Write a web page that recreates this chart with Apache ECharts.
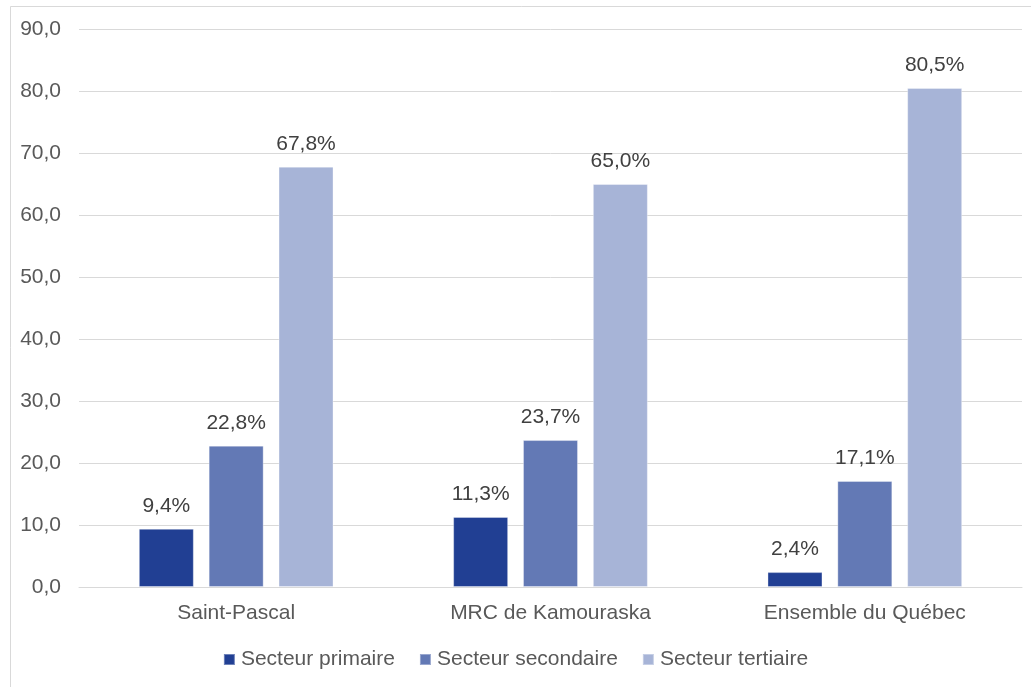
<!DOCTYPE html>
<html>
<head>
<meta charset="utf-8">
<script src="https://cdn.jsdelivr.net/npm/echarts@6/dist/echarts.min.js"></script>
<style>
html,body{margin:0;padding:0;background:#fff;}
#c{width:1031px;height:687px;}
</style>
</head>
<body>
<div id="c"></div>
<script>
const categories = ["Saint-Pascal", "MRC de Kamouraska", "Ensemble du Québec"];
const seriesNames = ["Secteur primaire", "Secteur secondaire", "Secteur tertiaire"];
const primaire = [9.4, 11.3, 2.4];
const secondaire = [22.8, 23.7, 17.1];
const tertiaire = [67.8, 65.0, 80.5];
const yTicks = [0, 10, 20, 30, 40, 50, 60, 70, 80, 90];
const colors = ["#213F93", "#6379B5", "#A7B4D7"];

const fmt = v => v.toFixed(1).replace('.', ',');
const font = "Liberation Sans, Arial, sans-serif";

const chart = echarts.init(document.getElementById('c'), null, {renderer: 'canvas'});
const values = [primaire, secondaire, tertiaire];
chart.setOption({
  animation: false,
  backgroundColor: '#fff',
  textStyle: {fontFamily: font},
  graphic: [{
    type: 'rect', silent: true,
    shape: {x: 10.5, y: 6.5, width: 1040, height: 700},
    style: {fill: 'none', stroke: '#d9d9d9', lineWidth: 1}
  }],
  grid: {left: 79, right: 9, top: 29, bottom: 100, containLabel: false},
  legend: {
    top: 644, left: 'center',
    itemWidth: 11, itemHeight: 11, itemGap: 24,
    icon: 'rect',
    textStyle: {fontSize: 21, color: '#595959', fontFamily: font, padding: [0, 0, 0, 1]},
    data: seriesNames
  },
  xAxis: {
    type: 'category', data: categories,
    axisLine: {lineStyle: {color: '#d9d9d9', width: 1}},
    axisTick: {show: false},
    axisLabel: {fontSize: 21, color: '#595959', margin: 16, fontFamily: font}
  },
  yAxis: {
    type: 'value', min: 0, max: 90, interval: 10,
    axisLine: {show: false}, axisTick: {show: false},
    splitLine: {lineStyle: {color: '#d9d9d9', width: 1}},
    axisLabel: {fontSize: 21, color: '#595959', margin: 18, fontFamily: font,
      formatter: v => fmt(v)}
  },
  series: seriesNames.map((n, i) => ({
    name: n, type: 'bar', data: values[i],
    barWidth: 55, barGap: '27%',
    itemStyle: {color: colors[i], borderColor: 'rgba(255,255,255,0.35)', borderWidth: 1},
    label: {show: true, position: 'top', distance: 12, fontSize: 21, color: '#404040',
      fontFamily: font, formatter: p => fmt(p.value) + '%'}
  }))
});
</script>
</body>
</html>
